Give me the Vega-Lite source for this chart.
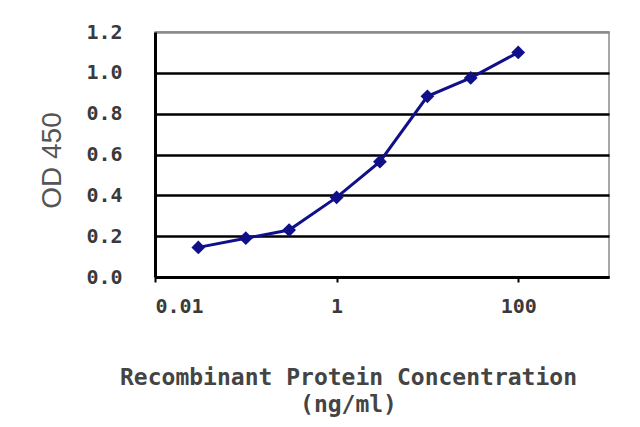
{
  "$schema": "https://vega.github.io/schema/vega-lite/v6.json",
  "width": 454,
  "height": 245,
  "autosize": {"type": "none"},
  "padding": {"left": 155, "top": 32, "right": 31, "bottom": 150},
  "background": "white",
  "config": {
    "view": {"stroke": "#8a8a8a", "strokeWidth": 1.5},
    "axis": {"labelFont": "DejaVu Sans Mono", "titleFont": "DejaVu Sans Mono", "labelColor": "#3a3a3a", "titleColor": "#444", "labelFontWeight": "bold", "titleFontWeight": "bold"}
  },
  "data": {
    "values": [
      {"conc": 0.03, "od": 0.145},
      {"conc": 0.1, "od": 0.19},
      {"conc": 0.3, "od": 0.23},
      {"conc": 1, "od": 0.39},
      {"conc": 3, "od": 0.565},
      {"conc": 10, "od": 0.885},
      {"conc": 30, "od": 0.975},
      {"conc": 100, "od": 1.1}
    ]
  },
  "mark": {"type": "line", "color": "#10108a", "strokeWidth": 3, "point": {"shape": "diamond", "size": 190, "color": "#10108a", "filled": true}},
  "encoding": {
    "x": {
      "field": "conc",
      "type": "quantitative",
      "scale": {"type": "log", "domain": [0.01, 1000], "nice": false},
      "axis": {
        "values": [0.01, 1, 100],
        "format": "~g",
        "grid": false,
        "domainColor": "black",
        "domainWidth": 3,
        "tickColor": "black",
        "tickWidth": 2,
        "tickSize": 5,
        "labelFontSize": 20,
        "labelPadding": 14,
        "title": ["Recombinant Protein Concentration", "(ng/ml)"],
        "titleFontSize": 23,
        "titleLineHeight": 27,
        "titleX": 193,
        "titleY": 107,
        "titleAlign": "center",
        "titleBaseline": "alphabetic"
      }
    },
    "y": {
      "field": "od",
      "type": "quantitative",
      "scale": {"domain": [0, 1.2], "nice": false},
      "axis": {
        "values": [0, 0.2, 0.4, 0.6, 0.8, 1.0, 1.2],
        "format": ".1f",
        "grid": true,
        "gridColor": {"condition": {"test": "datum.value >= 1.2", "value": "#8a8a8a"}, "value": "black"},
        "gridWidth": 2.5,
        "domainColor": "black",
        "domainWidth": 3,
        "ticks": false,
        "labelFontSize": 20,
        "labelPadding": 33,
        "title": "OD 450",
        "titleFont": "Liberation Sans",
        "titleFontWeight": "normal",
        "titleColor": "#555",
        "titleFontSize": 28,
        "titleAngle": -90,
        "titleX": -103,
        "titleY": 128,
        "titleAlign": "center",
        "titleBaseline": "middle"
      }
    }
  }
}
